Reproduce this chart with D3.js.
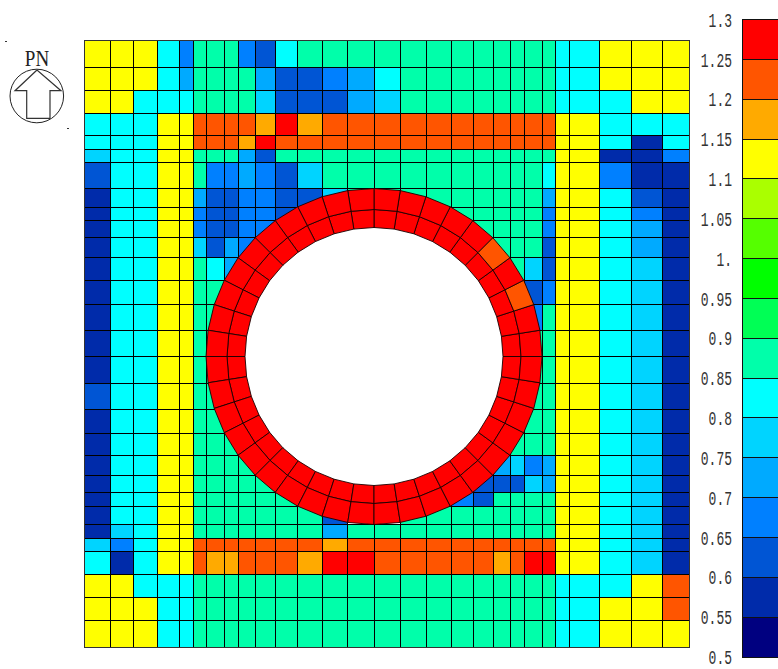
<!DOCTYPE html>
<html><head><meta charset="utf-8">
<script src="https://cdn.jsdelivr.net/npm/d3@7"></script>
<style>html,body{margin:0;padding:0;background:#fff;overflow:hidden}svg{display:block}</style>
</head><body><svg id="c" width="778" height="669"></svg>
<script>
// Bin representatives, one per colour band seen in the picture
const N1=.58,N2=.63,N3=.68,N4=.73,N5=.78,C=.83,G=.88,Y=1.13,A=1.18,O=1.23,R=1.28,_=null;

const legendTicks=[0.5,0.55,0.6,0.65,0.7,0.75,0.8,0.85,0.9,0.95,1,1.05,1.1,1.15,1.2,1.25,1.3];
const legendLabels=["0.5","0.55","0.6","0.65","0.7","0.75","0.8","0.85","0.9","0.95","1.","1.05","1.1","1.15","1.2","1.25","1.3"];
const bandColors=["#000080","#002BAA","#0055D4","#0080FF","#00AAFF","#00D4FF","#00FFFF","#00FFAA","#00FF55","#00FF00","#55FF00","#AAFF00","#FFFF00","#FFAA00","#FF5500","#FF0000"];

// Mesh element sizes
const colWidths=[26,23,23.6,22,14,13,18,14,17.4,20,22,24.6,25.4,26.3,26.7,25.6,25,22,20.4,16.6,14.4,18,13,14,30,31.6,31,26.7];
const rowHeights=[26.3,23,23.3,21.7,14.3,13,26,19,13.4,16.6,20.4,22.6,24.4,25.3,26.7,26.6,26,24,22,20,17,14.4,17.6,14.4,13,22.3,23,23.3,27];

// Cell values, row by row from the top (null = no cell, under the ring)
const meshValues=[
[Y,Y,Y,C,N3,G,G,G,N3,N2,C,G,G,G,G,G,G,G,G,G,G,G,G,C,C,Y,Y,Y],
[Y,Y,Y,C,N4,G,G,G,G,N4,N2,N2,N3,N4,C,G,G,G,G,G,G,G,G,C,C,Y,Y,Y],
[Y,Y,C,C,C,G,G,G,G,N5,N2,N2,N2,N4,N5,G,G,G,G,G,G,G,G,C,C,C,Y,Y],
[C,C,C,Y,Y,O,O,O,O,A,R,A,O,O,O,O,O,O,O,O,O,O,O,Y,Y,C,C,C],
[C,C,C,Y,Y,O,O,O,A,R,O,O,O,O,O,O,O,O,O,O,O,O,O,Y,Y,C,N1,C],
[N5,C,C,Y,Y,G,G,G,N4,N2,G,G,G,G,G,G,G,G,G,G,G,G,G,Y,Y,N1,N1,N3],
[N2,C,C,Y,Y,G,N3,N3,N4,N3,N2,N5,G,G,G,G,G,G,G,G,G,G,C,Y,Y,N3,N1,N1],
[N1,C,C,Y,Y,N4,N2,N2,N3,N3,N2,N2,N5,G,G,G,G,G,G,G,G,G,N4,Y,Y,C,N2,N1],
[N1,C,C,Y,Y,N3,N2,N2,N3,N3,N2,_,_,_,_,_,_,G,G,G,G,G,N3,Y,Y,C,N3,N1],
[N1,C,C,Y,Y,N3,N2,N2,N3,N3,_,_,_,_,_,_,_,_,G,G,G,G,N3,Y,Y,C,N4,N1],
[N1,C,C,Y,Y,N5,N2,N4,N3,_,_,_,_,_,_,_,_,_,_,G,G,G,N2,Y,Y,C,N4,N1],
[N1,C,C,Y,Y,G,C,N4,_,_,_,_,_,_,_,_,_,_,_,_,G,N5,N2,Y,Y,C,N5,N1],
[N1,C,C,Y,Y,G,G,_,_,_,_,_,_,_,_,_,_,_,_,_,_,N2,N3,Y,Y,C,N5,N1],
[N1,C,C,Y,Y,G,G,_,_,_,_,_,_,_,_,_,_,_,_,_,_,N3,G,Y,Y,C,N5,N1],
[N1,C,C,Y,Y,G,G,_,_,_,_,_,_,_,_,_,_,_,_,_,_,G,G,Y,Y,C,N5,N1],
[N1,C,C,Y,Y,G,G,_,_,_,_,_,_,_,_,_,_,_,_,_,_,G,G,Y,Y,C,N5,N1],
[N2,C,C,Y,Y,G,G,_,_,_,_,_,_,_,_,_,_,_,_,_,_,G,G,Y,Y,C,N5,N1],
[N1,C,C,Y,Y,G,G,_,_,_,_,_,_,_,_,_,_,_,_,_,_,G,G,Y,Y,C,N5,N1],
[N1,C,C,Y,Y,G,G,G,_,_,_,_,_,_,_,_,_,_,_,_,G,G,G,Y,Y,C,N5,N1],
[N1,C,C,Y,Y,G,G,G,G,_,_,_,_,_,_,_,_,_,_,N4,N5,N3,N4,Y,Y,C,N5,N1],
[N1,C,C,Y,Y,G,G,G,G,G,_,_,_,_,_,_,_,_,N2,N2,N2,N5,N4,Y,Y,C,N5,N1],
[N1,C,C,Y,Y,G,G,G,G,G,G,_,_,_,_,_,_,N3,N2,G,G,G,G,Y,Y,C,N5,N1],
[N1,C,C,Y,Y,G,G,G,G,G,G,G,N2,_,_,G,G,G,G,G,G,G,G,Y,Y,C,N5,N1],
[N1,N5,C,Y,Y,G,G,G,G,G,G,G,N4,G,G,G,G,G,G,G,G,G,G,Y,Y,C,N5,N1],
[N5,N3,C,Y,Y,O,O,O,O,O,O,O,A,O,O,O,O,O,O,O,O,O,O,Y,Y,C,N5,N1],
[C,N1,C,Y,Y,O,A,A,O,O,O,A,R,R,O,O,O,O,O,A,O,R,R,Y,Y,C,N5,N1],
[Y,Y,C,C,C,G,G,G,G,G,G,G,G,G,G,G,G,G,G,G,G,G,G,C,C,C,Y,O],
[Y,Y,Y,C,C,G,G,G,G,G,G,G,G,G,G,G,G,G,G,G,G,G,G,C,C,Y,Y,O],
[Y,Y,Y,C,C,G,G,G,G,G,G,G,G,G,G,G,G,G,G,G,G,G,G,C,C,Y,Y,Y]
];

// Ring around the opening: 40 sectors, two layers
const ringRadii=[129,147,168];
const ringCentre=[289.3,315.8];
const sectorCount=40;
const ringInnerValues=[R,R,R,R,R,R,R,R,R,R,R,R,R,R,R,R,R,R,R,R,R,R,R,R,R,R,R,R,R,R,R,R,R,R,R,R,R,R,R,R];
// counted anticlockwise from east
const ringOuterValues=[R,R,O,R,O,R,R,R,R,R,R,R,R,R,R,R,R,R,R,R,R,R,R,R,R,R,R,R,R,R,R,R,R,R,R,R,R,R,R,R];

const svg=d3.select("#c");
const colour=d3.scaleThreshold().domain(legendTicks.slice(1,-1)).range(bandColors);
const xEdges=d3.cumsum(colWidths),yEdges=d3.cumsum(rowHeights);
const x=d3.scaleLinear().domain([0,xEdges[xEdges.length-1]]).range([84.7,689]);
const y=d3.scaleLinear().domain([0,yEdges[yEdges.length-1]]).range([40.7,647.3]);
const colStart=i=>i?xEdges[i-1]:0,rowStart=i=>i?yEdges[i-1]:0;

const cells=[];
meshValues.forEach((row,r)=>row.forEach((v,c)=>{if(v!==null)cells.push({r,c,v});}));
svg.append("g").attr("shape-rendering","crispEdges").selectAll("rect").data(cells).join("rect")
 .attr("x",d=>x(colStart(d.c))).attr("y",d=>y(rowStart(d.r)))
 .attr("width",d=>x(xEdges[d.c])-x(colStart(d.c))).attr("height",d=>y(yEdges[d.r])-y(rowStart(d.r)))
 .attr("fill",d=>colour(d.v)).attr("stroke","#000").attr("stroke-width",1);
svg.append("rect").attr("shape-rendering","crispEdges").attr("x",x(0)).attr("y",y(0))
 .attr("width",x.range()[1]-x.range()[0]).attr("height",y.range()[1]-y.range()[0])
 .attr("fill","none").attr("stroke","#333");

// Ring
const angle=d3.scaleLinear().domain([0,sectorCount]).range([0,2*Math.PI]);
const polar=(rad,k)=>[x(ringCentre[0]+rad*Math.cos(angle(k))),y(ringCentre[1]-rad*Math.sin(angle(k)))];
const line=d3.line().curve(d3.curveLinearClosed);
const ringCells=[];
[ringInnerValues,ringOuterValues].forEach((vals,layer)=>vals.forEach((v,k)=>ringCells.push({layer,k,v})));
svg.append("path").attr("d",line(d3.range(sectorCount).map(k=>polar(ringRadii[0],k)))).attr("fill","#fff");
svg.append("g").selectAll("path").data(ringCells).join("path")
 .attr("d",d=>line([polar(ringRadii[d.layer],d.k),polar(ringRadii[d.layer+1],d.k),polar(ringRadii[d.layer+1],d.k+1),polar(ringRadii[d.layer],d.k+1)]))
 .attr("fill",d=>colour(d.v)).attr("stroke","#1a0000").attr("stroke-width",0.9).attr("stroke-linejoin","round");

// Legend
const ly=d3.scaleLinear().domain([0.5,1.3]).range([657,19.5]);
svg.append("g").attr("shape-rendering","crispEdges").selectAll("rect").data(bandColors).join("rect")
 .attr("x",742).attr("width",60)
 .attr("y",(d,i)=>ly(legendTicks[i+1])).attr("height",(d,i)=>ly(legendTicks[i])-ly(legendTicks[i+1]))
 .attr("fill",d=>d).attr("stroke","#111");
const axis=d3.axisLeft(ly).tickValues(legendTicks).tickSize(0).tickPadding(0)
 .tickFormat((d,i)=>legendLabels[i]);
const ag=svg.append("g").attr("transform","translate(732,0)").call(axis);
ag.select(".domain").remove();
ag.selectAll("text").attr("font-family","'Liberation Mono',monospace").attr("font-size",13)
 .attr("fill","#333").attr("dy",null).attr("y",4.3).attr("transform","scale(1,1.55)");

// North mark
const cg=svg.append("g");
cg.append("circle").attr("cx",36.8).attr("cy",96).attr("r",26.8).attr("fill","none").attr("stroke","#222").attr("stroke-width",1);
cg.append("path").attr("d","M37 70L15 90.7H26.7V118.3H50V90.7H61Z").attr("fill","none").attr("stroke","#333").attr("stroke-width",1.2);
cg.append("text").attr("transform","translate(37,65.5) scale(1,1.25)").attr("text-anchor","middle")
 .attr("font-family","'Liberation Serif',serif").attr("font-size",19).attr("fill","#222").text("PN");
cg.append("rect").attr("x",5).attr("y",41).attr("width",2).attr("height",1).attr("fill","#333");
cg.append("rect").attr("x",67).attr("y",128).attr("width",2).attr("height",1).attr("fill","#333");
</script></body></html>
